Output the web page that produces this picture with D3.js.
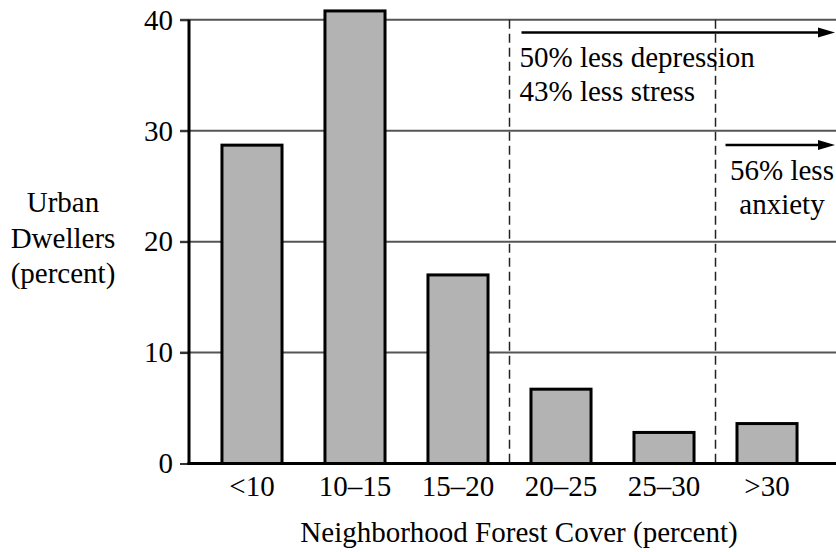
<!DOCTYPE html>
<html><head><meta charset="utf-8">
<script src="https://cdn.jsdelivr.net/npm/d3@7/dist/d3.min.js"></script>
<style>body{margin:0;background:#fff}svg{display:block}text{font-family:"Liberation Serif","Times New Roman",serif;fill:#000}</style>
</head><body>
<svg id="c" width="836" height="552"></svg>
<script>
const categories = ["<10","10\u201315","15\u201320","20\u201325","25\u201330",">30"];
const values = [28.7, 40.8, 17.0, 6.7, 2.8, 3.6];
const yTicks = [0,10,20,30,40];
const yTitle = ["Urban","Dwellers","(percent)"];
const xTitle = "Neighborhood Forest Cover (percent)";
const notes1 = ["50% less depression","43% less stress"];
const notes2 = ["56% less","anxiety"];

const FS = "29px";
const svg = d3.select("#c");
const W = 836;
const x = d3.scaleBand().domain(categories).range([189, 830]).paddingInner(0.417).paddingOuter(0.32);
const y = d3.scaleLinear().domain([0,40]).range([463.5, 19.8]);

// gridlines
svg.append("g").selectAll("line").data(yTicks.filter(d=>d>0)).join("line")
  .attr("x1",180).attr("x2",W).attr("y1",d=>y(d)).attr("y2",d=>y(d))
  .attr("stroke","#555").attr("stroke-width",2);

// y axis ticks + labels
const ya = svg.append("g").attr("transform","translate(189,0)")
  .call(d3.axisLeft(y).tickValues(yTicks).tickSize(9).tickPadding(7));
ya.select(".domain").remove();
ya.selectAll(".tick line").attr("stroke","#333").attr("stroke-width",2);
ya.selectAll(".tick text").style("font-size",FS).style("font-family","Liberation Serif").attr("fill","#000");

// dashed separators
const sep = [ (x(categories[2])+x.bandwidth()+x(categories[3]))/2, (x(categories[4])+x.bandwidth()+x(categories[5]))/2 ];
svg.append("g").selectAll("line").data(sep).join("line")
  .attr("x1",d=>d).attr("x2",d=>d).attr("y1",y(40)).attr("y2",y(0))
  .attr("stroke","#222").attr("stroke-width",1.5).attr("stroke-dasharray","9,5");

// bars
svg.append("g").selectAll("rect").data(values).join("rect")
  .attr("x",(d,i)=>x(categories[i])).attr("width",x.bandwidth())
  .attr("y",d=>y(d)).attr("height",d=>y(0)-y(d))
  .attr("fill","#b3b3b3").attr("stroke","#000").attr("stroke-width",3);

// axes lines
svg.append("line").attr("x1",189).attr("x2",189).attr("y1",y(40)).attr("y2",y(0)+1.5).attr("stroke","#000").attr("stroke-width",3);
svg.append("line").attr("x1",187.5).attr("x2",W).attr("y1",y(0)).attr("y2",y(0)).attr("stroke","#000").attr("stroke-width",3);

// x labels
const xa = svg.append("g").attr("transform",`translate(0,${y(0)})`).call(d3.axisBottom(x).tickSize(0).tickPadding(12));
xa.select(".domain").remove();
xa.selectAll(".tick text").style("font-size",FS).style("font-family","Liberation Serif").attr("fill","#000");

// titles
svg.append("text").attr("x",519).attr("y",542).attr("text-anchor","middle").style("font-size",FS).text(xTitle);
svg.append("g").selectAll("text").data(yTitle).join("text")
  .attr("x",63).attr("y",(d,i)=>212+i*35.5).attr("text-anchor","middle").style("font-size",FS).text(d=>d);

// arrows
function arrow(x1, yy){
  svg.append("line").attr("x1",x1).attr("x2",822).attr("y1",yy).attr("y2",yy)
    .attr("stroke","#000").attr("stroke-width",2.5);
  svg.append("path").attr("d",`M818,${yy-5}L835,${yy}L818,${yy+5}Z`).attr("fill","#000");
}
arrow(sep[0]+12, 32.5);
arrow(sep[1]+10, 145);

svg.append("g").selectAll("text").data(notes1).join("text")
  .attr("x",sep[0]+10).attr("y",(d,i)=>67+i*33.5).style("font-size",FS).text(d=>d);
svg.append("g").selectAll("text").data(notes2).join("text")
  .attr("x",782).attr("y",(d,i)=>180+i*33.5).attr("text-anchor","middle").style("font-size",FS).text(d=>d);
</script>
</body></html>
